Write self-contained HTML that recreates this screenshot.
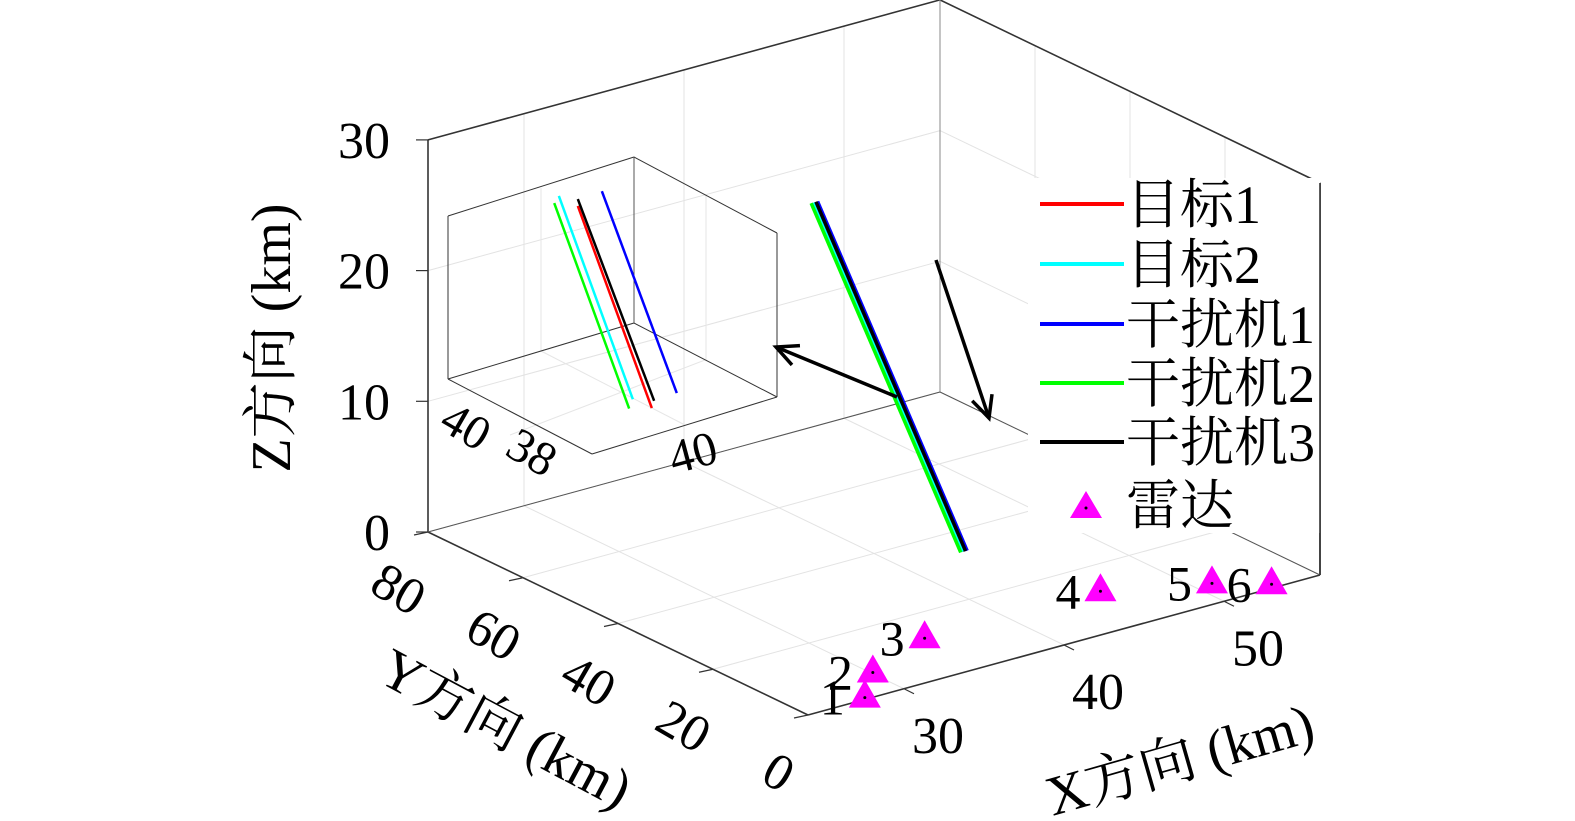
<!DOCTYPE html>
<html><head><meta charset="utf-8">
<style>
html,body{margin:0;padding:0;background:#fff;}
svg{display:block;}
text{font-family:"Liberation Serif","Noto Serif CJK SC",serif;fill:#000;}
</style></head>
<body>
<svg id="chart" width="1575" height="821" viewBox="0 0 1575 821" xmlns="http://www.w3.org/2000/svg">
<g id="grid"></g>
<g id="axes"></g>
<g id="inset"></g>
<g id="series"></g>
<g id="radars"></g>
<g id="arrows"></g>
<g id="legend"></g>
<g id="labels"></g>
</svg>
<script>
// ---- data ----
const xTicks = [30, 40, 50];
const yTicks = [0, 20, 40, 60, 80];
const zTicks = [0, 10, 20, 30];
const seriesNames = ['目标1', '目标2', '干扰机1', '干扰机2', '干扰机3'];
const seriesColors = ['#ff0000', '#00ffff', '#0000ff', '#00ff00', '#000000'];
// start/end points (km)
const startX = [43.8, 43.7, 43.95, 43.55, 43.85];
const startY = [33.7, 33.7, 33.7, 33.7, 33.7];
const startZ = [0, 0, 0, 0, 0];
const endX = [43.7, 43.6, 43.85, 43.45, 43.75];
const endY = [64.85, 64.85, 64.85, 64.85, 64.85];
const endZ = [21.3, 21.3, 21.3, 21.3, 21.3];
const radarLabels = ['1', '2', '3', '4', '5', '6'];
const radarX = [27.7, 30.1, 35.0, 45.9, 51.0, 53.3];
const radarY = [0.5, 6.9, 12.5, 12.2, 5.9, 1.1];
const radarZ = [0, 0, 0, 0, 0, 0];
// inset (zoomed) values
const insetStartX = [41.85, 41.44, 42.39, 41.36, 41.90];
const insetEndX = [40.25, 39.84, 40.77, 39.74, 40.25];
const insetY = [39, 39, 39, 39, 39];
const insetStartZ = [9.21, 9.57, 9.39, 9.37, 9.37];
const insetEndZ = [14.73, 15.12, 14.91, 14.98, 14.90];

// ---- projection ----
const XMIN = 24, XMAX = 56, YMIN = 0, YMAX = 80, ZMIN = 0, ZMAX = 30;
function P(x, y, z) {
  return [808 + 16 * (x - XMIN) - 4.75 * (y - YMIN),
          715 - 4.375 * (x - XMIN) - 2.2875 * (y - YMIN) - 13.07 * (z - ZMIN)];
}
function IP(x, y, z) {
  return [592 + 46.25 * (x - 39) - 36 * (y - 37),
          454 - 14.25 * (x - 39) - 18.75 * (y - 37) - 40.75 * (z - 10)];
}
const NS = 'http://www.w3.org/2000/svg';
function el(tag, attrs, parent) {
  const e = document.createElementNS(NS, tag);
  for (const k in attrs) e.setAttribute(k, attrs[k]);
  parent.appendChild(e);
  return e;
}
function line(p, q, stroke, w, parent) {
  return el('line', {x1: p[0], y1: p[1], x2: q[0], y2: q[1], stroke: stroke, 'stroke-width': w}, parent);
}
const G = id => document.getElementById(id);

// grid
const grid = G('grid');
const gc = '#e3e3e3';
xTicks.forEach(v => {
  let l = line(P(v, YMAX, 0), P(v, YMAX, ZMAX), gc, 1, grid);
  
  
  l = line(P(v, 0, 0), P(v, YMAX, 0), gc, 1, grid);
  
  
});
yTicks.forEach(v => {
  let l = line(P(XMAX, v, 0), P(XMAX, v, ZMAX), gc, 1, grid);
  
  
  l = line(P(XMIN, v, 0), P(XMAX, v, 0), gc, 1, grid);
  
  
});
zTicks.forEach(v => {
  let l = line(P(XMIN, YMAX, v), P(XMAX, YMAX, v), gc, 1, grid);
  
  
  l = line(P(XMAX, YMAX, v), P(XMAX, YMIN, v), gc, 1, grid);
  
  
});

// axes box
const axes = G('axes');
const ac = '#333', aw = 1.6;
[[P(XMIN,YMAX,0),P(XMIN,YMAX,ZMAX)],[P(XMIN,YMAX,ZMAX),P(XMAX,YMAX,ZMAX)],[P(XMAX,YMAX,ZMAX),P(XMAX,0,ZMAX)],
 [P(XMAX,0,0),P(XMAX,0,ZMAX)],[P(XMIN,YMAX,0),P(XMIN,0,0)],[P(XMIN,0,0),P(XMAX,0,0)],
 [P(XMAX,YMAX,0),P(XMAX,YMAX,ZMAX)]].forEach((s, i) => {
  const l = line(s[0], s[1], i === 6 ? '#888' : ac, i === 6 ? 1 : aw, axes);
  
  
});
let fb = line(P(XMIN,YMAX,0), P(XMAX,YMAX,0), '#555', 1, axes);


fb = line(P(XMAX,YMAX,0), P(XMAX,0,0), '#555', 1, axes);



const labels = G('labels');
function txt(s, x, y, size, anchor, rot, parent, name) {
  const t = el('text', {x: x, y: y, 'font-size': size, 'text-anchor': anchor || 'middle'}, parent);
  if (rot) t.setAttribute('transform', `rotate(${rot} ${x} ${y})`);
  t.textContent = s;
  
  
  return t;
}
// ticks + tick labels
xTicks.forEach(v => {
  const p = P(v, 0, 0);
  const l = line(p, [p[0] + 10, p[1] + 5], ac, 1.2, axes);
  
  
  txt(String(v), p[0] + 34, p[1] + 64, 52, 'middle', 0, labels, 'x-tick-label');
});
yTicks.forEach(v => {
  const p = P(XMIN, v, 0);
  const l = line(p, [p[0] - 14, p[1] + 3], ac, 1.2, axes);
  
  
  txt(String(v), p[0] - 38, p[1] + 72, 52, 'middle', 30, labels, 'y-tick-label');
});
zTicks.forEach(v => {
  const p = P(XMIN, YMAX, v);
  const l = line(p, [p[0] - 12, p[1]], ac, 1.2, axes);
  
  
  txt(String(v), 390, p[1] + 18, 52, 'end', 0, labels, 'z-tick-label');
});
txt('Z方向 (km)', 290, 338, 56, 'middle', -90, labels, 'z-axis-title');
txt('Y方向 (km)', 497, 745, 56, 'middle', 28, labels, 'y-axis-title');
txt('X方向 (km)', 1185, 778, 56, 'middle', -16, labels, 'x-axis-title');

// main series
const series = G('series');
seriesNames.forEach((n, i) => {
  const a = P(startX[i], startY[i], startZ[i]), b = P(endX[i], endY[i], endZ[i]);
  const l = line(a, b, seriesColors[i], 3.5, series);
  
  
});

// radars
const radars = G('radars');
radarLabels.forEach((lab, i) => {
  const p = P(radarX[i], radarY[i], radarZ[i]);
  const t = el('polygon', {points: `${p[0]},${p[1]-18} ${p[0]-16},${p[1]+10} ${p[0]+16},${p[1]+10}`, fill: '#ff00ff'}, radars);
  
  
  const d = el('circle', {cx: p[0], cy: p[1], r: 1.5, fill: '#000'}, radars);
  
  
  txt(lab, p[0] - 20, p[1] + 17, 50, 'end', 0, radars, 'radar-label-' + lab);
});

// inset
const inset = G('inset');
const ib = [[448,379],[634,323],[777,397],[592,454]];
const itop = [[448,216],[634,157],[777,233]];
function il(p, q, c, w) {
  const l = line(p, q, c, w, inset);
  
  
}
il([541,351],[685,425],'#e6e6e6',1); il([510,435],[705,360],'#e6e6e6',1);
il([541,188],[541,351],'#e6e6e6',1); il([706,195],[706,360],'#e6e6e6',1);
il([541,351],[634,323],'#e6e6e6',1);
il(ib[0], ib[3], '#333', 1); il(ib[3], ib[2], '#333', 1);
il(ib[0], ib[1], '#333', 1); il(ib[1], ib[2], '#333', 1);
il(itop[0], itop[1], '#333', 1); il(itop[1], itop[2], '#333', 1);
il(ib[0], itop[0], '#333', 1); il(ib[1], itop[1], '#555', 1); il(ib[2], itop[2], '#333', 1);
seriesNames.forEach((n, i) => {
  const a = IP(insetStartX[i], insetY[i], insetStartZ[i]), b = IP(insetEndX[i], insetY[i], insetEndZ[i]);
  const l = line(a, b, seriesColors[i], 2.5, inset);
  
  
});
txt('40', 458, 440, 48, 'middle', 30, inset, 'inset-y-tick-label');
txt('38', 524, 466, 48, 'middle', 30, inset, 'inset-y-tick-label');
txt('40', 697, 468, 48, 'middle', -15, inset, 'inset-x-tick-label');

// arrows
const arrows = G('arrows');
function arrow(x1, y1, x2, y2) {
  const g = el('g', {}, arrows);
  
  
  line([x1, y1], [x2, y2], '#000', 3.5, g);
  const ang = Math.atan2(y2 - y1, x2 - x1), L = 24, s = 0.45;
  el('polyline', {points: `${x2 - L*Math.cos(ang - s)},${y2 - L*Math.sin(ang - s)} ${x2},${y2} ${x2 - L*Math.cos(ang + s)},${y2 - L*Math.sin(ang + s)}`, fill: 'none', stroke: '#000', 'stroke-width': 3.5}, g);
}
arrow(897, 397, 776, 347);
arrow(936, 260, 989, 418);

// legend
const legend = G('legend');
const bg = el('rect', {x: 1028, y: 178, width: 292, height: 355, fill: '#fff'}, legend);


const rowsY = [204, 264, 324, 383, 442];
seriesNames.forEach((n, i) => {
  const g = el('g', {}, legend);
  
  
  line([1040, rowsY[i]], [1124, rowsY[i]], seriesColors[i], 4, g);
  txt(n, 1126, rowsY[i] + 19, 54, 'start', 0, g, 'legend-label');
});
const rg = el('g', {}, legend);


el('polygon', {points: '1086,491 1070,518 1102,518', fill: '#ff00ff'}, rg);
el('circle', {cx: 1086, cy: 508, r: 1.5, fill: '#000'}, rg);
txt('雷达', 1126, 524, 54, 'start', 0, rg, 'legend-label');
const re = line([1320,183],[1320,575], '#333', 1.6, legend);


</script>
</body></html>
